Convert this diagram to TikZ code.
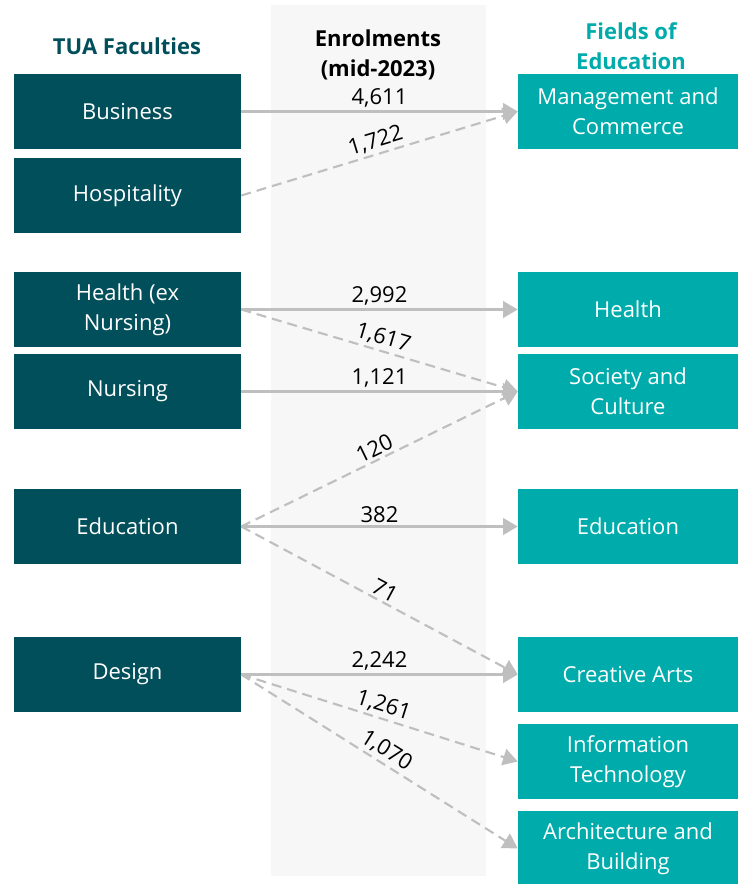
\documentclass[tikz,border=0pt]{standalone}
\usepackage{fontspec}
\setmainfont{Open Sans}
\usetikzlibrary{arrows.meta}
\definecolor{facteal}{HTML}{014F5A}
\definecolor{fieldteal}{HTML}{00ABAB}
\definecolor{flowgrey}{HTML}{BFBFBF}
\definecolor{bandgrey}{HTML}{F7F7F7}
\tikzset{
  faculty/.style={fill=facteal,text=white,minimum width=170.25pt,minimum height=56.25pt,
    align=center,inner sep=0pt,font=\fontsize{16.5}{22.5}\selectfont},
  field/.style={faculty,fill=fieldteal,minimum width=165pt},
  flow/.style={draw=flowgrey,line width=1.6pt,-{Triangle[length=11pt,width=12.5pt]}},
  share/.style={flow,dash pattern=on 7.5pt off 4.5pt},
  count/.style={font=\fontsize{16.5}{18}\selectfont,text=black,inner sep=2pt},
  heading/.style={font=\bfseries\fontsize{16.5}{22.5}\selectfont,align=center},
}
\begin{document}
\begin{tikzpicture}[x=0.75pt,y=-0.75pt]
\useasboundingbox (0,0) rectangle (738,884);
% middle band behind the flows
\fill[bandgrey] (271,5) rectangle (486,876);
% column headings
\node[heading,text=facteal] (hFac) at (127,46) {TUA Faculties};
\node[heading,text=black] (hEnr) at (378,55) {Enrolments\\(mid-2023)};
\node[heading,text=fieldteal] (hFld) at (631,46) {Fields of\\Education};
% faculties, left column
\node[faculty] (fBus)  at (127.5,111.5) {Business};
\node[faculty] (fHosp) at (127.5,195.5) {Hospitality};
\node[faculty] (fHlth) at (127.5,309.5) {Health (ex\\Nursing)};
\node[faculty] (fNurs) at (127.5,391.5) {Nursing};
\node[faculty] (fEdu)  at (127.5,526.5) {Education};
\node[faculty] (fDes)  at (127.5,674.5) {Design};
% fields of education, right column
\node[field] (eMgmt) at (628,111.5) {Management and\\Commerce};
\node[field] (eHlth) at (628,309.5) {Health};
\node[field] (eSoc)  at (628,391.5) {Society and\\Culture};
\node[field] (eEdu)  at (628,526.5) {Education};
\node[field] (eArts) at (628,674.5) {Creative Arts};
\node[field] (eIT)   at (628,761.5) {Information\\Technology};
\node[field] (eArch) at (628,848.5) {Architecture and\\Building};
% flows, solid for the main field, dashed for the rest
\draw[flow]  (fBus.east)  -- node[count,above] {4,611} (eMgmt.west);
\draw[share] (fHosp.east) -- node[count,above,sloped] {1,722} (eMgmt.west);
\draw[flow]  (fHlth.east) -- node[count,above] {2,992} (eHlth.west);
\draw[share] (fHlth.east) -- node[count,above,sloped] {1,617} (eSoc.west);
\draw[flow]  (fNurs.east) -- node[count,above] {1,121} (eSoc.west);
\draw[share] (fEdu.east)  -- node[count,above,sloped] {120} (eSoc.west);
\draw[flow]  (fEdu.east)  -- node[count,above] {382} (eEdu.west);
\draw[share] (fEdu.east)  -- node[count,above,sloped] {71} (eArts.west);
\draw[flow]  (fDes.east)  -- node[count,above] {2,242} (eArts.west);
\draw[share] (fDes.east)  -- node[count,above,sloped] {1,261} (eIT.west);
\draw[share] (fDes.east)  -- node[count,above,sloped] {1,070} (eArch.west);
\end{tikzpicture}
\end{document}
